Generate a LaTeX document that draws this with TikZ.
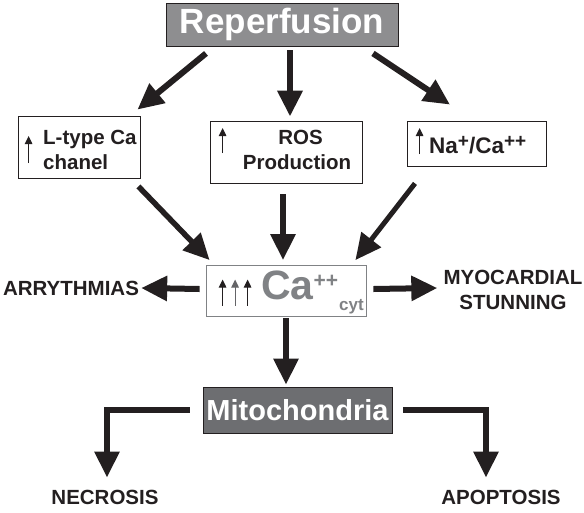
\documentclass[tikz,border=0pt]{standalone}
\usepackage{fontspec}
\setmainfont{Liberation Sans}
\usetikzlibrary{arrows.meta,calc}
\definecolor{ink}{HTML}{231F20}
\definecolor{repgray}{HTML}{8E8E90}
\definecolor{mitogray}{HTML}{6D6E71}
\definecolor{cagray}{HTML}{808285}
\tikzset{
  box/.style={draw=ink, line width=0.8pt, fill=white, inner sep=0pt},
  lbl/.style={font=\bfseries\fontsize{20.5}{25}\selectfont, text=ink, inner sep=0pt},
  bigarr/.style={color=ink, line width=6pt, line join=miter, -{Triangle[length=26pt,width=24pt]}},
  thinarr/.style={color=ink, line width=1pt, -{Triangle[length=8pt,width=7.5pt]}}
}
\begin{document}
\begin{tikzpicture}[x=1pt,y=-1pt]
\useasboundingbox (0,0) rectangle (584,512);
% top
\node[draw=ink, line width=0.8pt, fill=repgray, minimum width=232pt, minimum height=43pt, inner sep=0pt,
      text=white, font=\bfseries\fontsize{35}{35}\selectfont] (rep) at (282,24.5) {Reperfusion};
% second row boxes
\node[box, minimum width=122pt, minimum height=62pt] (ltype) at (79,147) {};
\node[lbl, anchor=west, align=left] (ltypet) at (43,150) {L-type Ca\\chanel};
\draw[thinarr] ($(ltype.west)+(11,16)$) -- ($(ltype.west)+(11,-11)$);

\node[box, minimum width=152pt, minimum height=62pt] (ros) at (286,152) {};
\node[lbl, align=center] (rost) at (297,150) {\hspace{7pt}ROS\\Production};
\draw[thinarr] ($(ros.west)+(13,1)$) -- ($(ros.west)+(13,-24)$);

\node[box, minimum width=139pt, minimum height=45pt] (na) at (476.5,143.5) {};
\node[lbl, anchor=west, font=\bfseries\fontsize{22.5}{25}\selectfont] (nat) at (429,145)
  {Na\raisebox{6pt}{\fontsize{19}{19}\selectfont+}/Ca\raisebox{6pt}{\fontsize{19}{19}\selectfont++}};
\draw[thinarr] ($(na.west)+(13,10.5)$) -- ($(na.west)+(13,-15.5)$);

% Ca box
\node[draw=cagray, line width=0.8pt, fill=white, minimum width=160pt, minimum height=51pt, inner sep=0pt] (ca) at (286,290.5) {};
\node[inner sep=0pt, anchor=west, text=cagray, font=\bfseries] (cat) at (261,292)
  {\fontsize{41}{41}\selectfont Ca\raisebox{12pt}{\fontsize{21}{21}\selectfont ++}\hspace{1pt}\raisebox{-11pt}{\fontsize{17}{17}\selectfont cyt}};
\draw[thinarr] ($(ca.west)+(17,15)$) -- ($(ca.west)+(17,-11)$);
\draw[thinarr, color=cagray!70!ink] ($(ca.west)+(29.5,15)$) -- ($(ca.west)+(29.5,-11)$);
\draw[thinarr] ($(ca.west)+(42,15)$) -- ($(ca.west)+(42,-11)$);

% side labels
\node[lbl] (arr) at (71,288) {ARRYTHMIAS};
\node[lbl, align=center] (myo) at (513,290) {MYOCARDIAL\\STUNNING};

% mitochondria
\node[draw=ink, line width=0.8pt, fill=mitogray, minimum width=189pt, minimum height=46pt, inner sep=0pt,
      text=white, font=\bfseries\fontsize{29}{29}\selectfont] (mito) at (297.5,410) {Mitochondria};

\node[lbl] (nec) at (105,497) {NECROSIS};
\node[lbl] (apo) at (501,497) {APOPTOSIS};

% connectors
\draw[bigarr] ($(rep.south)+(-76,7)$) -- ($(ltype.north east)+(-3,-6)$);
\draw[bigarr, line width=6.5pt] ($(rep.south)+(8,4)$) -- ($(ros.north)+(4,-4)$);
\draw[bigarr] ($(rep.south)+(91,7)$) -- ($(na.north)+(-26.5,-16)$);

\draw[bigarr, line width=5.5pt] ($(ltype.south east)+(-2,8)$) -- ($(ca.north west)+(4,-4.5)$);
\draw[bigarr] ($(ros.south)+(-3,11)$) -- ($(ca.north)+(-3,-4.5)$);
\draw[bigarr, line width=5pt] ($(na.south)+(-61.5,17)$) -- ($(ca.north east)+(-11,-4.5)$);

\draw[bigarr] ($(ca.west)+(-6,-1.5)$) -- ($(arr.east)+(2,0)$);
\draw[bigarr] ($(ca.east)+(7,-1.5)$) -- ($(myo.west)+(-6,-2)$);
\draw[bigarr] ($(ca.south)+(0,2)$) -- ($(mito.north)+(-11.5,-2)$);

\draw[bigarr] ($(mito.west)+(-13,0)$) -| ($(nec.north)+(2,-12)$);
\draw[bigarr] ($(mito.east)+(11,0)$) -| ($(apo.north)+(-15,-12)$);
\end{tikzpicture}
\end{document}
